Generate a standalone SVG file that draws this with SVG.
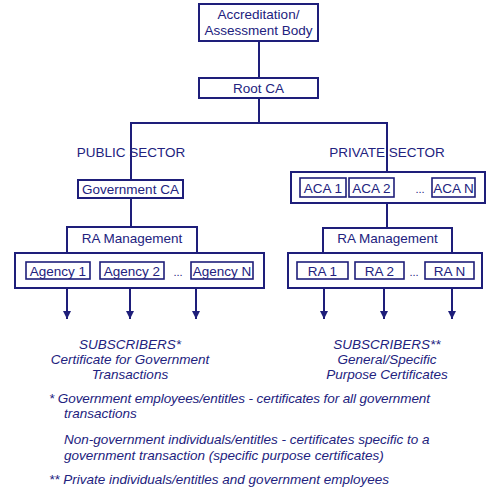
<svg xmlns="http://www.w3.org/2000/svg" width="500" height="493" viewBox="0 0 500 493">
<style>
.b{fill:#fff;stroke:#1e1e7a;stroke-width:2}
.s{fill:#fff;stroke:#1e1e7a;stroke-width:1.6}
.l{fill:none;stroke:#1e1e7a;stroke-width:2}
text{font-family:"Liberation Sans",Arial,sans-serif;font-size:13.5px;fill:#22227e}
.c{text-anchor:middle}
.i{font-style:italic}
.d{font-size:11px}
</style>
<defs>
<marker id="ah" viewBox="0 0 10 10" refX="10" refY="5" markerWidth="8" markerHeight="9" markerUnits="userSpaceOnUse" orient="auto">
<path d="M0,0 L10,5 L0,10 Z" fill="#1e1e7a"/>
</marker>
</defs>
<rect width="500" height="493" fill="#fff"/>
<g id="connectors">
<line class="l" x1="259" y1="41" x2="259" y2="78"/>
<line class="l" x1="259" y1="98" x2="259" y2="123"/>
<polyline class="l" points="131,180 131,123 387,123 387,172"/>
<line class="l" x1="131" y1="198" x2="131" y2="227"/>
<line class="l" x1="387" y1="203" x2="387" y2="228"/>
<line class="l" x1="67" y1="288" x2="67" y2="319" marker-end="url(#ah)"/>
<line class="l" x1="130" y1="288" x2="130" y2="319" marker-end="url(#ah)"/>
<line class="l" x1="196" y1="288" x2="196" y2="319" marker-end="url(#ah)"/>
<line class="l" x1="324" y1="288" x2="324" y2="319" marker-end="url(#ah)"/>
<line class="l" x1="384" y1="288" x2="384" y2="319" marker-end="url(#ah)"/>
<line class="l" x1="452" y1="288" x2="452" y2="319" marker-end="url(#ah)"/>
</g>
<g id="accreditation">
<rect class="b" x="199" y="4" width="119" height="37"/>
<text class="c" x="258.5" y="19">Accreditation/</text>
<text class="c" x="258.5" y="35">Assessment Body</text>
</g>
<g id="root-ca">
<rect class="b" x="199" y="78" width="119" height="20"/>
<text class="c" x="258.5" y="93">Root CA</text>
</g>
<g id="public-sector">
<text class="c" x="131" y="157">PUBLIC SECTOR</text>
</g>
<g id="private-sector">
<text class="c" x="387" y="157">PRIVATE SECTOR</text>
</g>
<g id="government-ca">
<rect class="b" x="78" y="180" width="105" height="18"/>
<text class="c" x="130.5" y="194">Government CA</text>
</g>
<g id="aca-group">
<rect class="b" x="291" y="172" width="194" height="31"/>
<rect class="s" x="300" y="178" width="46" height="19"/>
<text class="c" x="323" y="193">ACA 1</text>
<rect class="s" x="349" y="178" width="45" height="19"/>
<text class="c" x="371.5" y="193">ACA 2</text>
<text class="c d" x="420" y="193">...</text>
<rect class="s" x="432" y="178" width="43" height="19"/>
<text class="c" x="453.5" y="193">ACA N</text>
</g>
<g id="public-ra-management">
<rect class="b" x="67" y="227" width="130" height="26"/>
<text class="c" x="132" y="243">RA Management</text>
</g>
<g id="agencies">
<rect class="b" x="15" y="253" width="249" height="35"/>
<rect class="s" x="26" y="262" width="64" height="17"/>
<text class="c" x="58" y="276">Agency 1</text>
<rect class="s" x="100" y="262" width="64" height="17"/>
<text class="c" x="132" y="276">Agency 2</text>
<text class="c d" x="178" y="276">...</text>
<rect class="s" x="191" y="262" width="62" height="17"/>
<text class="c" x="222" y="276">Agency N</text>
</g>
<g id="private-ra-management">
<rect class="b" x="323" y="228" width="129" height="25"/>
<text class="c" x="387.5" y="243">RA Management</text>
</g>
<g id="ras">
<rect class="b" x="288" y="253" width="194" height="35"/>
<rect class="s" x="297" y="262" width="51" height="17"/>
<text class="c" x="322.5" y="276">RA 1</text>
<rect class="s" x="355" y="262" width="49" height="17"/>
<text class="c" x="379.5" y="276">RA 2</text>
<text class="c d" x="414" y="276">...</text>
<rect class="s" x="425" y="262" width="49" height="17"/>
<text class="c" x="449.5" y="276">RA  N</text>
</g>
<g id="public-subscribers">
<text class="c i" x="130" y="349">SUBSCRIBERS*</text>
<text class="c i" x="130" y="364">Certificate for Government</text>
<text class="c i" x="130" y="379">Transactions</text>
</g>
<g id="private-subscribers">
<text class="c i" x="387" y="349">SUBSCRIBERS**</text>
<text class="c i" x="387" y="364">General/Specific</text>
<text class="c i" x="387" y="379">Purpose Certificates</text>
</g>
<g id="footnotes">
<text class="i" x="49" y="403" textLength="381" lengthAdjust="spacing">* Government employees/entitles - certificates for all government</text>
<text class="i" x="64" y="418">transactions</text>
<text class="i" x="64" y="444">Non-government individuals/entitles - certificates specific to a</text>
<text class="i" x="64" y="460">government transaction (specific purpose certificates)</text>
<text class="i" x="49" y="484">** Private individuals/entitles and government employees</text>
</g>
</svg>
